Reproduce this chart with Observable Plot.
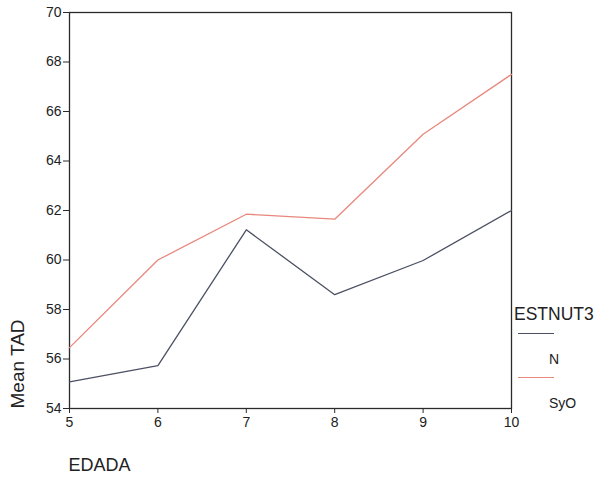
<!DOCTYPE html>
<html>
<head>
<meta charset="utf-8">
<script src="https://cdn.jsdelivr.net/npm/d3@7"></script>
<script src="https://cdn.jsdelivr.net/npm/@observablehq/plot@0.6"></script>
<style>
  html, body { margin: 0; padding: 0; background: #fff; }
  #wrap { position: relative; width: 602px; height: 480px; font-family: "Liberation Sans", Arial, sans-serif; }
  #legend { position: absolute; left: 514px; top: 303px; width: 88px; height: 110px; color: #222; }
  #legend .title { position: absolute; left: 0; top: 0; font-size: 17.5px; line-height: 22px; white-space: nowrap; }
  #legend .item { position: absolute; left: 0; width: 88px; height: 44px; }
  #legend .swatch { position: absolute; left: 4px; top: 0; width: 36px; height: 0; border-top: 1.4px solid; }
  #legend .name { position: absolute; left: 35px; top: 17px; font-size: 14px; line-height: 18px; white-space: nowrap; }
</style>
</head>
<body>
<div id="wrap"></div>
<script>
// Mean TAD by age (EDADA), split by nutritional status (ESTNUT3)
const ages = [5, 6, 7, 8, 9, 10];
const meanN = [55.08, 55.73, 61.22, 58.6, 59.98, 62.0];
const meanSyO = [56.46, 60.0, 61.85, 61.65, 65.08, 67.5];
const groups = ["N", "SyO"];
const groupColors = ["#4b5064", "#e8877c"];
const yTicks = [54, 56, 58, 60, 62, 64, 66, 68, 70];

const rows = [
  ...ages.map((a, i) => ({age: a, tad: meanN[i], group: groups[0]})),
  ...ages.map((a, i) => ({age: a, tad: meanSyO[i], group: groups[1]}))
];

const chart = Plot.plot({
  width: 602,
  height: 480,
  marginLeft: 69,
  marginRight: 91,
  marginTop: 12,
  marginBottom: 72,
  style: {fontFamily: "Liberation Sans, Arial, sans-serif", fontSize: "14px", color: "#222", background: "#fff"},
  x: {domain: [5, 10], ticks: ages, label: null},
  y: {domain: [54, 70], ticks: yTicks, label: null},
  color: {domain: groups, range: groupColors},
  marks: [
    Plot.frame({stroke: "#2a2a2a", strokeWidth: 1.3}),
    Plot.axisX({ticks: ages, tickFormat: "d", tickSize: 5, tickPadding: 4, stroke: "#2a2a2a", fill: "#222", label: null, fontSize: 14}),
    Plot.axisY({ticks: yTicks, tickFormat: "d", tickSize: 6, tickPadding: 2, stroke: "#2a2a2a", fill: "#222", label: null, fontSize: 14}),
    Plot.line(rows, {x: "age", y: "tad", z: "group", stroke: "group", strokeWidth: 1.3}),
    Plot.text(["Mean TAD"], {frameAnchor: "bottom-left", text: d => d, rotate: -90, textAnchor: "start", dx: -46, dy: 0, fontSize: 19, fill: "#222"}),
    Plot.text(["EDADA"], {frameAnchor: "bottom-left", text: d => d, textAnchor: "start", dx: -1, dy: 62, fontSize: 18, fill: "#222"})
  ]
});

const wrap = document.getElementById("wrap");
wrap.appendChild(chart);

// Legend for the two ESTNUT3 groups
const legend = document.createElement("div");
legend.id = "legend";
legend.innerHTML = `<div class="title">ESTNUT3</div>` +
  groups.map((g, i) => `<div class="item" style="top:${30 + i * 44}px"><div class="swatch" style="border-color:${groupColors[i]}"></div><div class="name">${g}</div></div>`).join("");
wrap.appendChild(legend);
</script>
</body>
</html>
